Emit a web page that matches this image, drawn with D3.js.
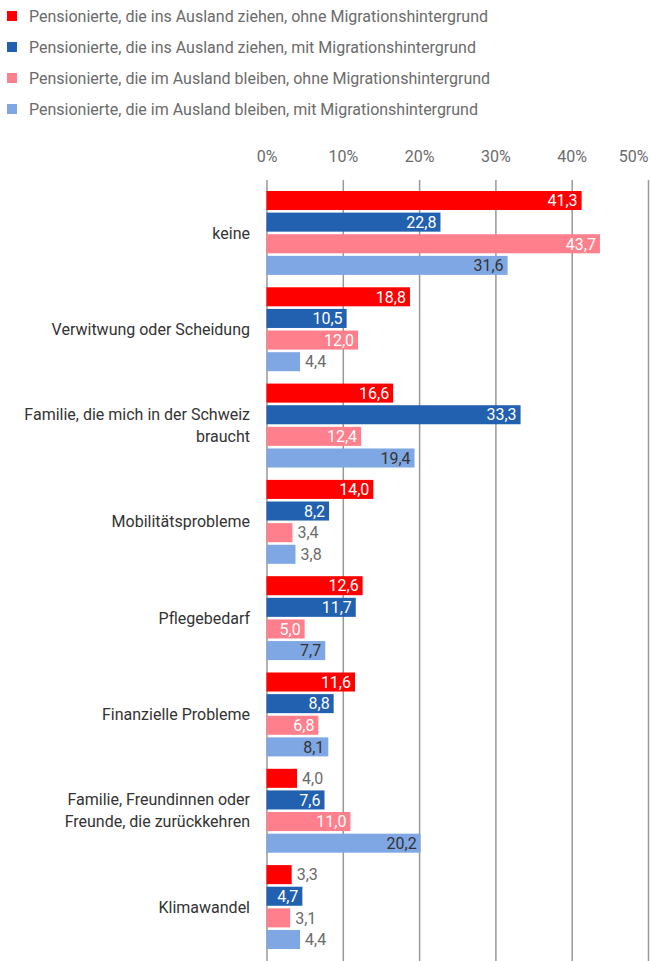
<!DOCTYPE html>
<html>
<head>
<meta charset="utf-8">
<script src="https://cdn.jsdelivr.net/npm/d3@7"></script>
<style>
  html, body { margin: 0; padding: 0; background: #fff; }
  svg { display: block; font-family: Roboto, "Noto Sans", sans-serif; }
</style>
</head>
<body>
<svg id="chart" width="650" height="961"></svg>
<script>
// Gründe für eine Rückkehr in die Schweiz (Anteile in %)
const categories = [
  "keine",
  "Verwitwung oder Scheidung",
  "Familie, die mich in der Schweiz|braucht",
  "Mobilitätsprobleme",
  "Pflegebedarf",
  "Finanzielle Probleme",
  "Familie, Freundinnen oder|Freunde, die zurückkehren",
  "Klimawandel"
];
const seriesNames = [
  "Pensionierte, die ins Ausland ziehen, ohne Migrationshintergrund",
  "Pensionierte, die ins Ausland ziehen, mit Migrationshintergrund",
  "Pensionierte, die im Ausland bleiben, ohne Migrationshintergrund",
  "Pensionierte, die im Ausland bleiben, mit Migrationshintergrund"
];
const movingNoMig   = [41.3, 18.8, 16.6, 14.0, 12.6, 11.6, 4.0, 3.3];
const movingMig     = [22.8, 10.5, 33.3, 8.2, 11.7, 8.8, 7.6, 4.7];
const stayingNoMig  = [43.7, 12.0, 12.4, 3.4, 5.0, 6.8, 11.0, 3.1];
const stayingMig    = [31.6, 4.4, 19.4, 3.8, 7.7, 8.1, 20.2, 4.4];
const tickValues = [0, 10, 20, 30, 40, 50];

const seriesValues = [movingNoMig, movingMig, stayingNoMig, stayingMig];
const colors = ["#ff0000", "#2260b0", "#ff7f8c", "#7fa7e3"];
const insideText = ["#ffffff", "#ffffff", "#ffffff", "#333333"];

const svg = d3.select("#chart");
const chartHeight = 961;
const plotTop = 180, plotLeft = 266.5, plotRight = 648;
const fs = 16;

const x = d3.scaleLinear().domain([0, 50]).range([plotLeft, plotRight]);
const y0 = d3.scaleBand().domain(d3.range(categories.length))
  .range([184.8, 955.2]).paddingInner(0.1286).paddingOuter(0.0643);
const y1 = d3.scaleBand().domain(d3.range(4)).range([0, y0.bandwidth()]).paddingInner(0.12);

// Legend
const legend = svg.append("g");
seriesNames.forEach((name, i) => {
  const cy = 16 + i * 31;
  legend.append("rect").attr("x", 7).attr("y", cy - 5).attr("width", 10).attr("height", 10)
    .attr("fill", colors[i]);
  legend.append("text").attr("x", 29).attr("y", cy).attr("dy", "0.35em")
    .attr("font-size", fs).attr("fill", "#6b6b6b").text(name);
});

// Gridlines and tick labels
const axis = d3.axisTop(x).tickValues(tickValues).tickFormat(d => d + "%")
  .tickSize(-(chartHeight - plotTop)).tickPadding(0);
const ax = svg.append("g").attr("transform", `translate(0,${plotTop})`).call(axis);
ax.select(".domain").remove();
ax.selectAll(".tick line").attr("stroke", "#999").attr("stroke-width", 1.5);
ax.selectAll(".tick text").attr("y", -18).attr("font-size", fs).attr("fill", "#6b6b6b")
  .attr("font-family", "Roboto, sans-serif")
  .attr("text-anchor", d => d === 50 ? "end" : "middle");

// Bars
const groups = svg.append("g").selectAll("g").data(categories).join("g")
  .attr("transform", (d, i) => `translate(0,${y0(i)})`);

groups.each(function(cat, ci) {
  const g = d3.select(this);
  seriesValues.forEach((vals, si) => {
    const v = vals[ci];
    const bx = x(0), bw = x(v) - x(0);
    const by = y1(si), bh = y1.bandwidth();
    g.append("rect").attr("x", bx).attr("y", by).attr("width", bw).attr("height", bh)
      .attr("fill", colors[si]);
    const label = d3.format(".1f")(v).replace(".", ",");
    const inside = bw > 35;
    g.append("text")
      .attr("x", inside ? x(v) - 4 : x(v) + 5)
      .attr("y", by + bh / 2).attr("dy", "0.36em")
      .attr("text-anchor", inside ? "end" : "start")
      .attr("font-size", fs)
      .attr("fill", inside ? insideText[si] : "#6b6b6b")
      .text(label);
  });
  const lines = cat.split("|");
  const cy = y0.bandwidth() / 2;
  const t = g.append("text").attr("x", 250).attr("text-anchor", "end")
    .attr("font-size", fs).attr("fill", "#333");
  lines.forEach((ln, k) => {
    t.append("tspan").attr("x", 250)
      .attr("y", cy + (k - (lines.length - 1) / 2) * 22).attr("dy", "0.35em").text(ln);
  });
});
</script>
</body>
</html>
